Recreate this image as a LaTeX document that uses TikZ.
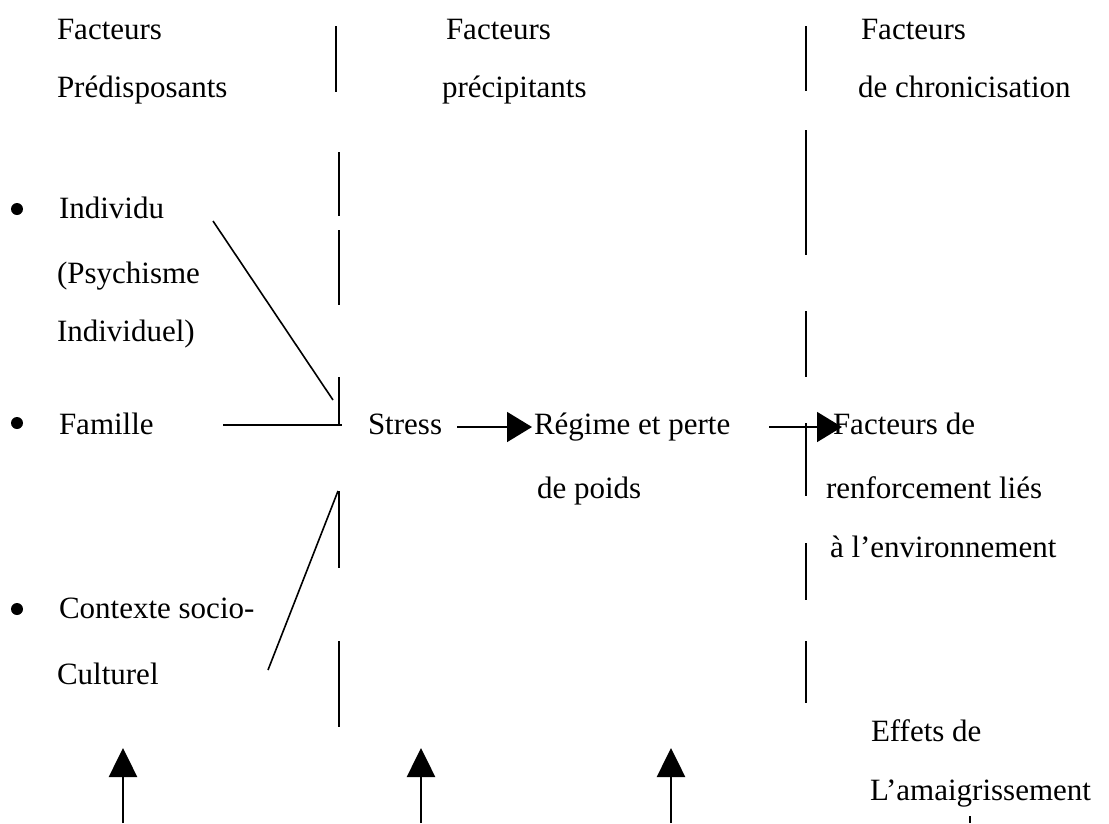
\documentclass[tikz,border=0pt]{standalone}
\usepackage{fontspec}
\setmainfont{Liberation Serif}
\usetikzlibrary{arrows.meta}
\begin{document}
\begin{tikzpicture}[x=1pt,y=-1pt,
  txt/.style={anchor=base west,inner sep=0pt,outer sep=0pt,font=\fontsize{31}{37}\selectfont},
  sep/.style={line width=1.8pt},
  link/.style={line width=1.6pt},
  harrow/.style={line width=1.7pt,-{Triangle[width=30pt,length=25pt]}},
  varrow/.style={line width=2.6pt,-{Triangle[width=28pt,length=29pt]}},
  dot/.style={circle,fill=black,inner sep=0pt,minimum size=12pt}]
\useasboundingbox (0,0) rectangle (1109,823);
% headers
\node[txt] (h1a) at (57,39) {Facteurs};
\node[txt] (h1b) at (57,97) {Prédisposants};
\node[txt] (h2a) at (446,39) {Facteurs};
\node[txt] (h2b) at (442,97) {précipitants};
\node[txt] (h3a) at (861,39) {Facteurs};
\node[txt] (h3b) at (858,97) {de chronicisation};
% left column
\node[dot] (b1) at (17,209) {};
\node[dot] (b2) at (17,423) {};
\node[dot] (b3) at (17,609) {};
\node[txt] (ind) at (59,218) {Individu};
\node[txt] (psy) at (57,283) {(Psychisme};
\node[txt] (indl) at (57,341) {Individuel)};
\node[txt] (fam) at (59,434) {Famille};
\node[txt] (ctx) at (59,618) {Contexte socio-};
\node[txt] (cul) at (57,684) {Culturel};
% middle
\node[txt] (stress) at (368,434) {Stress};
\node[txt] (reg) at (534,434) {Régime et perte};
\node[txt] (poids) at (537,498) {de poids};
% right
\node[txt] (fdr) at (833,434) {Facteurs de};
\node[txt] (renf) at (826,498) {renforcement liés};
\node[txt] (env) at (830,557) {à l’environnement};
\node[txt] (eff) at (871,741) {Effets de};
\node[txt] (ama) at (870,800) {L’amaigrissement};
% separator 1
\draw[sep] (336,26) -- (336,92);
\draw[sep] (339,152) -- (339,216);
\draw[sep] (339,230) -- (339,305);
\draw[sep] (339,377) -- (339,425);
\draw[sep] (339,491) -- (339,568);
\draw[sep] (339,641) -- (339,727);
% separator 2
\draw[sep] (806,26) -- (806,91);
\draw[sep] (806,130) -- (806,255);
\draw[sep] (806,311) -- (806,377);
\draw[sep] (806,423) -- (806,496);
\draw[sep] (806,543) -- (806,600);
\draw[sep] (806,641) -- (806,703);
\draw[sep] (970,816) -- (970,823);
% links into the junction
\coordinate (j1a) at (213,221);
\coordinate (j1b) at (333,400);
\coordinate (j2a) at (223,425);
\coordinate (j2b) at (342,425);
\coordinate (j3a) at (268,670);
\coordinate (j3b) at (338,491);
\draw[link] (j1a) -- (j1b);
\draw[link] (j2a) -- (j2b);
\draw[link] (j3a) -- (j3b);
% horizontal arrows
\coordinate (s1) at (457,427);
\coordinate (t1) at (532,427);
\coordinate (s2) at (769,427);
\coordinate (t2) at (842,427);
\draw[harrow] (s1) -- (t1);
\draw[harrow] (s2) -- (t2);
% upward arrows
\coordinate (u1) at (123,823);
\coordinate (v1) at (123,748);
\coordinate (u2) at (421,823);
\coordinate (v2) at (421,748);
\coordinate (u3) at (671,823);
\coordinate (v3) at (671,748);
\draw[varrow] (u1) -- (v1);
\draw[varrow] (u2) -- (v2);
\draw[varrow] (u3) -- (v3);
\end{tikzpicture}
\end{document}
